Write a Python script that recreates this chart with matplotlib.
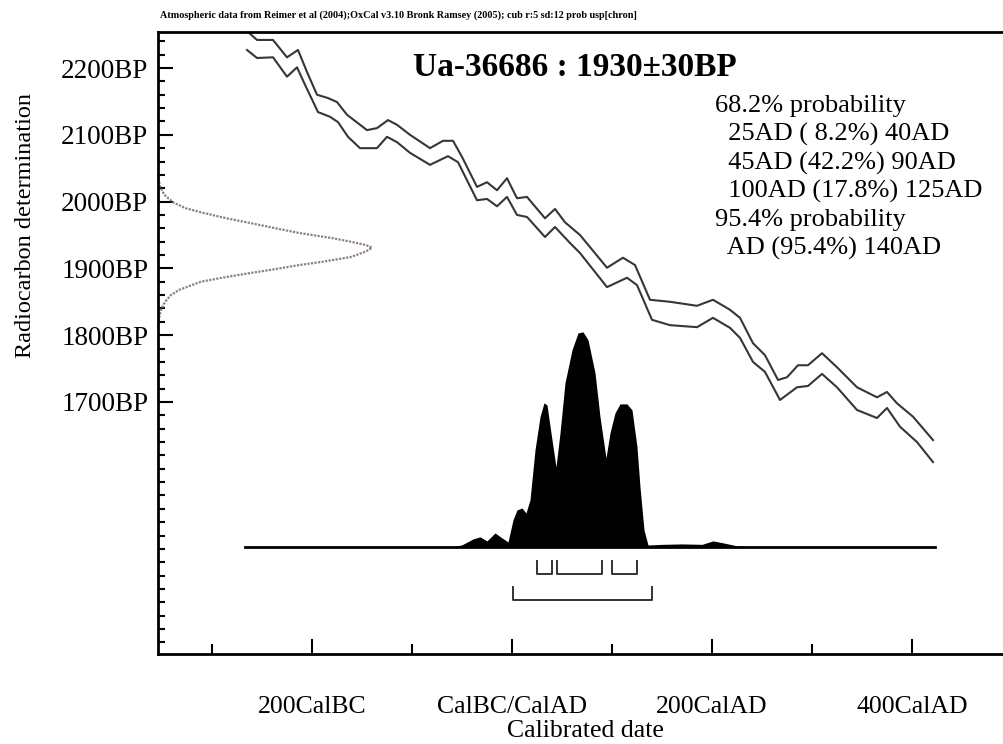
import numpy as np
import matplotlib.pyplot as plt
from matplotlib.ticker import FixedLocator, MultipleLocator

plt.rcParams['font.family'] = ['Liberation Serif', 'DejaVu Serif']

# calibration curve, upper and lower edges (cal year AD, BP)
upper_year = [-264, -255, -239, -225, -214, -205, -195, -184, -175, -165, -145, -135,
              -124, -115, -102, -82, -69, -59, -50, -35, -25, -15, -5, 5, 15, 33, 43,
              53, 68, 95, 111, 123, 138, 158, 185, 201, 218, 228, 241, 253, 266, 275,
              286, 296, 310, 325, 345, 365, 375, 385, 401, 421]
upper_bp = [2254, 2242, 2242, 2216, 2227, 2194, 2160, 2155, 2149, 2130, 2107, 2110,
            2122, 2115, 2100, 2080, 2091, 2091, 2067, 2022, 2029, 2017, 2035, 2005, 2007,
            1975, 1989, 1969, 1950, 1901, 1916, 1905, 1853, 1850, 1844, 1853, 1838, 1826,
            1788, 1770, 1733, 1737, 1755, 1755, 1773, 1752, 1722, 1707, 1715, 1698,
            1678, 1643]
lower_year = [-265, -255, -239, -225, -215, -207, -194, -182, -174, -164, -152, -135,
              -125, -115, -102, -82, -64, -54, -35, -25, -15, -5, 5, 15, 33, 43, 58,
              68, 95, 115, 125, 140, 158, 185, 201, 218, 228, 241, 253, 268, 285, 296,
              310, 325, 345, 365, 375, 388, 405, 421]
lower_bp = [2227, 2215, 2216, 2187, 2201, 2175, 2134, 2127, 2119, 2097, 2080, 2080,
            2097, 2089, 2073, 2055, 2068, 2059, 2002, 2004, 1993, 2007, 1980, 1977, 1947,
            1962, 1938, 1923, 1872, 1886, 1875, 1823, 1815, 1812, 1826, 1811, 1796, 1760,
            1745, 1703, 1722, 1724, 1742, 1722, 1688, 1676, 1691, 1663, 1640, 1610]

# radiocarbon measurement 1930±30 BP (relative height)
gauss_bp = [2040, 2030, 2022, 2010, 1999, 1990, 1984, 1975, 1968, 1960, 1953, 1945, 1940,
            1935, 1931, 1925, 1917, 1910, 1905, 1899, 1893, 1886, 1880, 1868, 1860, 1850,
            1838, 1825, 1808]
gauss_h = [0.0, 0.005, 0.01, 0.03, 0.07, 0.13, 0.2, 0.32, 0.43, 0.55, 0.66, 0.82, 0.9,
           0.97, 1.0, 0.97, 0.9, 0.77, 0.66, 0.55, 0.43, 0.3, 0.2, 0.1, 0.06, 0.033,
           0.014, 0.005, 0.0]

# calibrated probability distribution (relative height)
prob_year = [-267, -60, -50, -39, -32, -25, -17, -10, -4, 1, 5, 10, 14, 18, 23, 28, 32,
             35, 39, 44, 48, 53, 60, 66, 71, 76, 83, 88, 94, 98, 103, 108, 115, 120, 125,
             128, 132, 136, 150, 170, 190, 201, 210, 225, 240, 423]
prob_h = [0.0, 0.0, 0.01, 0.037, 0.047, 0.028, 0.065, 0.042, 0.023, 0.126, 0.172, 0.181,
          0.158, 0.219, 0.451, 0.605, 0.67, 0.66, 0.53, 0.372, 0.53, 0.763, 0.916, 0.995,
          1.0, 0.963, 0.81, 0.605, 0.414, 0.53, 0.623, 0.665, 0.665, 0.637, 0.465, 0.279,
          0.079, 0.009, 0.012, 0.014, 0.012, 0.028, 0.02, 0.005, 0.0, 0.0]

ranges_68 = [(25, 40), (45, 90), (100, 125)]
ranges_95 = [(1, 140)]

x_ticks = [-200, 0, 200, 400]
x_labels = ['200CalBC', 'CalBC/CalAD', '200CalAD', '400CalAD']
y_ticks = [1700, 1800, 1900, 2000, 2100, 2200]
y_labels = ['1700BP', '1800BP', '1900BP', '2000BP', '2100BP', '2200BP']

header = 'Atmospheric data from Reimer et al (2004);OxCal v3.10 Bronk Ramsey (2005); cub r:5 sd:12 prob usp[chron]'
title = 'Ua-36686 : 1930\u00b130BP'
result_lines = ['68.2% probability', '  25AD ( 8.2%) 40AD', '  45AD (42.2%) 90AD',
                '  100AD (17.8%) 125AD', '95.4% probability', '  AD (95.4%) 140AD']

W, H = 1004, 744
fig = plt.figure(figsize=(W / 100, H / 100), dpi=100)
ax = fig.add_axes([158 / W, 90 / H, 854 / W, 622 / H])
xmin, xmax = -354, 500
ymin, ymax = 1322.7, 2253.9
ax.set_xlim(xmin, xmax)
ax.set_ylim(ymin, ymax)

# curve
ax.plot(upper_year, upper_bp, color='#3a3434', lw=1.5)
ax.plot(lower_year, lower_bp, color='#3a3434', lw=1.5)

# measurement on the y axis
ax.plot(xmin + np.array(gauss_h) * 214, gauss_bp, color='#8f7f7f', lw=1.6,
        linestyle=(0, (1, 0.6)), clip_on=False)

# probability distribution
base = 1483
amp = 322
ax.fill_between(prob_year, base, base + np.array(prob_h) * amp, color='black', lw=0)
ax.plot([prob_year[0], prob_year[-1]], [base, base], color='black', lw=2)

# ranges
for s, e in ranges_68:
    ax.plot([s, s, e, e], [1462, 1442.5, 1442.5, 1462], color='#333', lw=1.4)
for s, e in ranges_95:
    ax.plot([s, s, e, e], [1423, 1403.6, 1403.6, 1423], color='#333', lw=1.4)

# axes styling
for side in ['left', 'top', 'bottom', 'right']:
    ax.spines[side].set_linewidth(2)
ax.xaxis.set_major_locator(FixedLocator(x_ticks))
ax.set_xticklabels(x_labels, fontsize=18.5)
ax.xaxis.set_minor_locator(FixedLocator([-300, -100, 100, 300]))
ax.yaxis.set_major_locator(FixedLocator(y_ticks))
ax.set_yticklabels(y_labels, fontsize=19.5)
ax.yaxis.set_minor_locator(MultipleLocator(20))
ax.tick_params(axis='x', which='major', direction='in', length=11, width=1.5, pad=30)
ax.tick_params(axis='x', which='minor', direction='in', length=7, width=1.5)
ax.tick_params(axis='y', which='major', direction='in', length=11, width=1.5, pad=7)
ax.tick_params(axis='y', which='minor', direction='in', length=5, width=1.5)

ax.set_xlabel('Calibrated date', fontsize=18.5)
ax.xaxis.set_label_coords(0.5, -(720 - 654) / 622, transform=ax.transAxes)
ax.set_ylabel('Radiocarbon determination', fontsize=17.5)
ax.yaxis.set_label_coords(-(158 - 36) / 854, (654 - 226) / 622)

fig.text(160 / W, 1 - 15 / H, header, fontsize=7.3, fontweight='bold', va='center')
ax.text((575 - 158) / 854, (654 - 67) / 622, title, transform=ax.transAxes,
        fontsize=24, fontweight='bold', ha='center', va='center')
line_y = [106, 134, 163, 191, 220, 248]
for txt, yy in zip(result_lines, line_y):
    ax.text((715 - 158) / 854, (654 - yy) / 622, txt, transform=ax.transAxes,
            fontsize=19, ha='left', va='center')

fig.savefig('out.png', dpi=100)
